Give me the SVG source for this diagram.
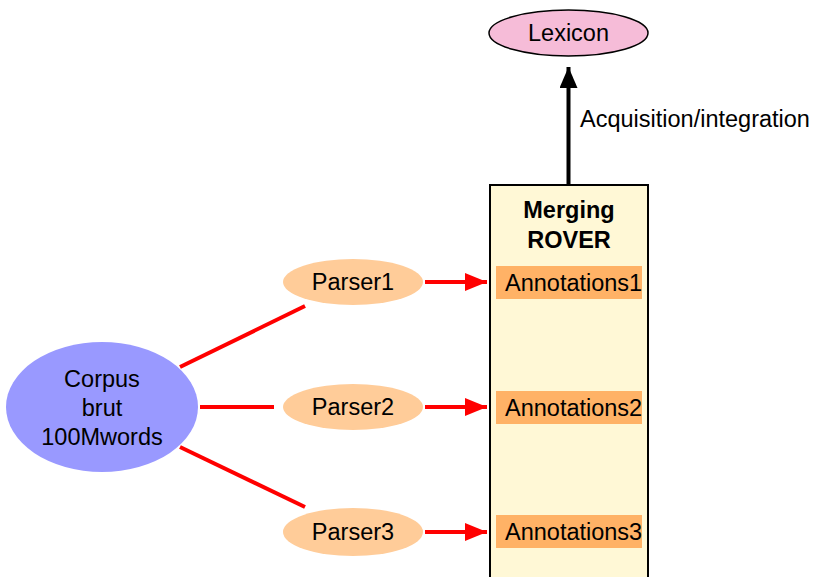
<svg xmlns="http://www.w3.org/2000/svg" width="815" height="577" viewBox="0 0 815 577">
<style>
text{font-family:"Liberation Sans",Arial,sans-serif;font-size:23.5px;fill:#000}
.b{font-weight:bold}
.red{stroke:#ff0000;stroke-width:4;fill:none}
.parser{fill:#ffcc99}
.ann{fill:#ffb266}
</style>
<defs>
<marker id="ra" markerUnits="userSpaceOnUse" markerWidth="22" markerHeight="18" refX="22" refY="9" orient="auto">
<path d="M0,0 L22,9 L0,18 Z" fill="#ff0000"/>
</marker>
<marker id="ka" markerUnits="userSpaceOnUse" markerWidth="21" markerHeight="18" refX="21" refY="9" orient="auto">
<path d="M0,0 L21,9 L0,18 Z" fill="#000"/>
</marker>
</defs>
<rect width="815" height="577" fill="#fff"/>
<g id="merging">
<rect x="490" y="185" width="158" height="400" fill="#fff8d6" stroke="#000" stroke-width="2"/>
<text class="b" x="569" y="218" text-anchor="middle">Merging</text>
<text class="b" x="569" y="248" text-anchor="middle">ROVER</text>
</g>
<g id="annotations1">
<rect class="ann" x="496" y="266" width="146" height="33"/>
<text x="505" y="291">Annotations1</text>
</g>
<g id="annotations2">
<rect class="ann" x="496" y="391" width="146" height="33"/>
<text x="505" y="416">Annotations2</text>
</g>
<g id="annotations3">
<rect class="ann" x="496" y="515" width="146" height="33"/>
<text x="505" y="540">Annotations3</text>
</g>
<g id="lexicon">
<ellipse cx="568.5" cy="33" rx="79.5" ry="23" fill="#f6bcd8" stroke="#000" stroke-width="1.5"/>
<text x="568.5" y="41" text-anchor="middle">Lexicon</text>
</g>
<g id="parser1">
<ellipse class="parser" cx="353" cy="282" rx="70" ry="23"/>
<text x="353" y="290" text-anchor="middle">Parser1</text>
</g>
<g id="parser2">
<ellipse class="parser" cx="353" cy="407" rx="70" ry="23"/>
<text x="353" y="415" text-anchor="middle">Parser2</text>
</g>
<g id="parser3">
<ellipse class="parser" cx="353" cy="532" rx="70" ry="24"/>
<text x="353" y="540" text-anchor="middle">Parser3</text>
</g>
<g id="corpus">
<ellipse cx="102" cy="407" rx="96" ry="65" fill="#9999ff"/>
<text x="102" y="387" text-anchor="middle">Corpus</text>
<text x="102" y="416" text-anchor="middle">brut</text>
<text x="102" y="445" text-anchor="middle">100Mwords</text>
</g>
<g id="connectors">
<line class="red" x1="180" y1="367" x2="305" y2="306"/>
<line class="red" x1="200" y1="407" x2="274" y2="407"/>
<line class="red" x1="180" y1="447" x2="305" y2="507"/>
<line class="red" x1="425" y1="282" x2="487" y2="282" marker-end="url(#ra)"/>
<line class="red" x1="425" y1="407" x2="487" y2="407" marker-end="url(#ra)"/>
<line class="red" x1="425" y1="532" x2="487" y2="532" marker-end="url(#ra)"/>
<line x1="568.5" y1="185" x2="568.5" y2="67" stroke="#000" stroke-width="4" marker-end="url(#ka)"/>
<text x="580" y="127">Acquisition/integration</text>
</g>
</svg>
